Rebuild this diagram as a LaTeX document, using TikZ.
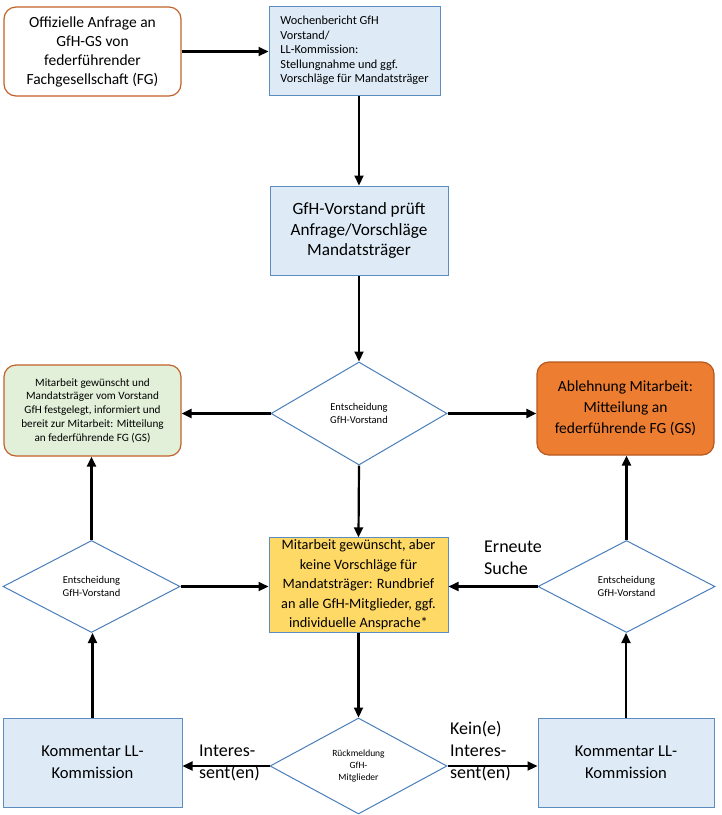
\documentclass[tikz,border=0pt]{standalone}
\usepackage{fontspec}
\setmainfont{Carlito}
\usetikzlibrary{arrows.meta,shapes.geometric}
\definecolor{bluefill}{HTML}{DEEBF7}
\definecolor{blueline}{HTML}{5B8DC0}
\definecolor{dialine}{HTML}{4A7EBB}
\definecolor{orline}{HTML}{C0622A}
\definecolor{greenfill}{HTML}{E2F0D9}
\definecolor{orfill}{HTML}{ED7D31}
\definecolor{orfillline}{HTML}{B5591E}
\definecolor{yelfill}{HTML}{FFD966}
\tikzset{
  bluebox/.style={draw=blueline,fill=bluefill,line width=1pt,align=center,inner sep=2pt},
  roundbox/.style={draw=orline,line width=1.2pt,rounded corners=12pt,align=center,inner sep=2pt},
  dec/.style={diamond,draw=dialine,fill=white,line width=1pt,align=center,inner sep=0pt,
    minimum width=177pt,minimum height=92pt,font=\fontsize{10.5}{12.5}\selectfont},
  arr/.style={line width=2.2pt,-{Triangle[length=10pt,width=9pt]}},
  lbl/.style={font=\fontsize{18}{22}\selectfont,align=left,inner sep=0pt,anchor=west}
}
\begin{document}
\begin{tikzpicture}[x=1pt,y=-1pt]
\useasboundingbox (0,0) rectangle (722,815);
% top row
\node[roundbox,minimum width=177pt,minimum height=89pt,font=\fontsize{15.5}{19}\selectfont] (anf) at (92.5,51.5)
  {Offizielle Anfrage an\\GfH-GS von\\federführender\\Fachgesellschaft (FG)};
\node[bluebox,minimum width=171pt,minimum height=89pt,align=left,font=\fontsize{12.3}{14.5}\selectfont] (woc) at (354.5,50.5)
  {Wochenbericht GfH\\Vorstand/\\LL-Kommission:\\Stellungnahme und ggf.\\Vorschläge für Mandatsträger};
\node[bluebox,minimum width=178pt,minimum height=89pt,font=\fontsize{17.2}{20.5}\selectfont] (pru) at (359,230.5)
  {GfH-Vorstand prüft\\Anfrage/Vorschläge\\Mandatsträger};
% decision row
\node[dec,minimum width=176pt,minimum height=103pt] (d1) at (359,413.5) {Entscheidung\\GfH-Vorstand};
\node[roundbox,fill=greenfill,minimum width=177pt,minimum height=91pt,font=\fontsize{11.2}{13.8}\selectfont] (grn) at (92.5,410.5)
  {Mitarbeit gewünscht und\\Mandatsträger vom Vorstand\\GfH festgelegt, informiert und\\bereit zur Mitarbeit: Mitteilung\\an federführende FG (GS)};
\node[roundbox,draw=orfillline,fill=orfill,minimum width=177pt,minimum height=93pt,font=\fontsize{15.5}{21}\selectfont] (abl) at (625.5,408.5)
  {Ablehnung Mitarbeit:\\Mitteilung an\\federführende FG (GS)};
% middle row
\node[bluebox,fill=yelfill,minimum width=179pt,minimum height=90pt,font=\fontsize{14.3}{19.5}\selectfont] (yel) at (358.5,585)
  {Mitarbeit gewünscht, aber\\keine Vorschläge für\\Mandatsträger: Rundbrief\\an alle GfH-Mitglieder, ggf.\\individuelle Ansprache*};
\node[dec] (dl) at (91.5,586.5) {Entscheidung\\GfH-Vorstand};
\node[dec] (dr) at (626.5,586.5) {Entscheidung\\GfH-Vorstand};
% bottom row
\node[dec,minimum height=96pt,font=\fontsize{9.5}{12}\selectfont] (rm) at (358.5,766) {Rückmeldung\\GfH-\\Mitglieder};
\node[bluebox,minimum width=179pt,minimum height=89pt,font=\fontsize{16.6}{22}\selectfont] (kl) at (92.5,762.5)
  {Kommentar LL-\\Kommission};
\node[bluebox,minimum width=176pt,minimum height=89pt,font=\fontsize{16.6}{22}\selectfont] (kr) at (626,762.5)
  {Kommentar LL-\\Kommission};
% arrows
\draw[arr] (anf.east) -- (anf.east -| woc.west);
\draw[arr] (woc.south -| pru.north) -- (pru.north);
\draw[arr] (pru.south) -- (d1.north);
\draw[arr] (d1.west) -- (d1.west -| grn.east);
\draw[arr] (d1.east) -- (d1.east -| abl.west);
\draw[arr] (d1.south) -- (yel.north);
\draw[arr] (dl.east) -- (dl.east -| yel.west);
\draw[arr] (dr.west) -- (dr.west -| yel.east);
\draw[arr] (dl.north) -- (dl.north |- grn.south);
\draw[arr] (dr.north) -- (dr.north |- abl.south);
\draw[arr] (yel.south) -- (rm.north);
\draw[arr] (rm.west) -- (rm.west -| kl.east);
\draw[arr] (rm.east) -- (rm.east -| kr.west);
\draw[arr] (kl.north) -- (kl.north |- dl.south);
\draw[arr] (kr.north) -- (kr.north |- dr.south);
% labels
\node[lbl] (l1) at (484,557.5) {Erneute\\Suche};
\node[lbl] (l2) at (199,763) {Interes-\\sent(en)};
\node[lbl] (l3) at (450,751) {Kein(e)\\Interes-\\sent(en)};
\end{tikzpicture}
\end{document}
